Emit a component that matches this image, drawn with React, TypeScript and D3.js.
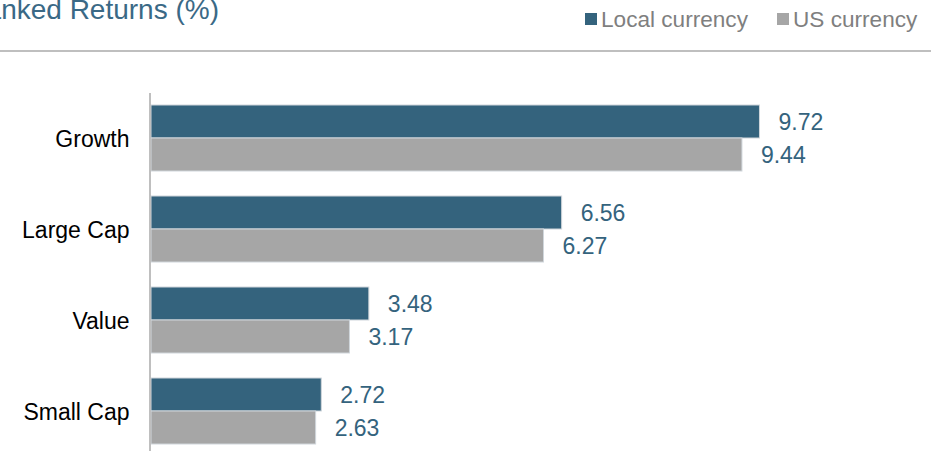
import React from "react";
import * as d3 from "d3";

const categories = ["Growth", "Large Cap", "Value", "Small Cap"];
const localValues = [9.72, 6.56, 3.48, 2.72];
const usValues = [9.44, 6.27, 3.17, 2.63];
const seriesNames = ["Local currency", "US currency"];
const title = "Ranked Returns (%)";

const W = 935;
const H = 451;
const BLUE = "#34637d";
const GRAY = "#a6a6a6";
const FONT = "Arial, 'Liberation Sans', sans-serif";

export default function App() {
  const x = d3.scaleLinear().domain([0, 10]).range([151, 777]);
  const y = d3
    .scaleBand<string>()
    .domain(categories)
    .range([92.5, 456.5])
    .paddingInner(25 / 91)
    .paddingOuter(25 / 182);
  const sub = d3
    .scaleBand<string>()
    .domain(seriesNames)
    .range([0, y.bandwidth()]);

  const series = [
    { name: seriesNames[0], values: localValues, color: BLUE },
    { name: seriesNames[1], values: usValues, color: GRAY },
  ];

  return (
    <svg
      width={W}
      height={H}
      style={{ position: "absolute", left: 0, top: 0, background: "#fff" }}
      fontFamily={FONT}
    >
      <text x={219} y={19} textAnchor="end" fontSize={28} fill="#3a6986">
        {title}
      </text>
      <line x1={0} x2={931} y1={51} y2={51} stroke="#bfbfbf" strokeWidth={2} />

      {/* legend */}
      <rect x={585} y={13} width={12} height={12} fill={BLUE} />
      <text x={601} y={26.5} fontSize={22.6} fill="#7f7f7f">
        {seriesNames[0]}
      </text>
      <rect x={777} y={13} width={12} height={12} fill={GRAY} />
      <text x={793} y={26.5} fontSize={22.6} fill="#7f7f7f">
        {seriesNames[1]}
      </text>

      {/* bars */}
      {categories.map((c, i) => (
        <g key={c}>
          {series.map((s) => {
            const y0 = (y(c) as number) + (sub(s.name) as number);
            const h = sub.bandwidth();
            const v = s.values[i];
            return (
              <g key={s.name}>
                <rect
                  x={x(0)}
                  y={y0}
                  width={x(v) - x(0)}
                  height={h}
                  fill={s.color}
                  stroke="#d0d6db"
                  strokeWidth={1}
                />
                <text
                  x={x(v) + 19}
                  y={y0 + h / 2}
                  dy="0.37em"
                  fontSize={23}
                  fill={BLUE}
                >
                  {v.toFixed(2)}
                </text>
              </g>
            );
          })}
          <text
            x={129.5}
            y={(y(c) as number) + y.bandwidth() / 2}
            dy="0.37em"
            textAnchor="end"
            fontSize={23}
            fill="#000"
          >
            {c}
          </text>
        </g>
      ))}

      <line x1={150} x2={150} y1={93} y2={H} stroke="#bfbfbf" strokeWidth={2} />
    </svg>
  );
}
